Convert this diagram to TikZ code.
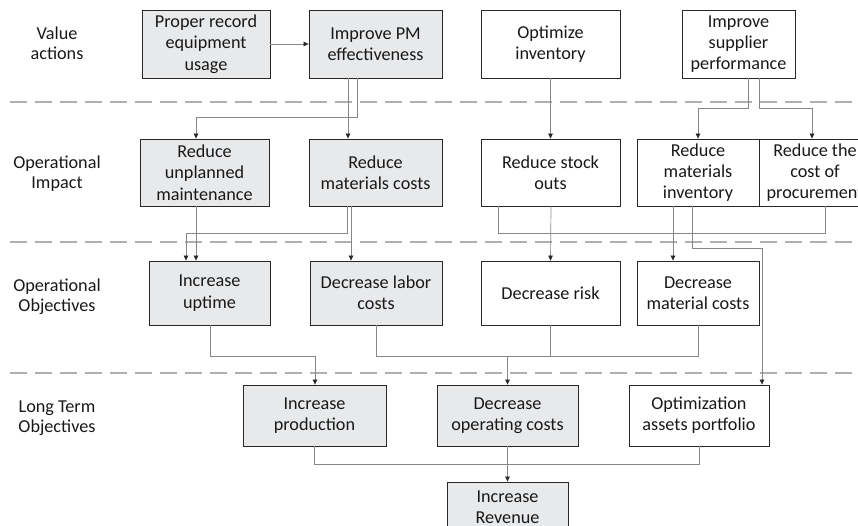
\documentclass[tikz,border=0pt]{standalone}
\usepackage{fontspec}
\setmainfont{Carlito}
\usetikzlibrary{arrows.meta}
\definecolor{boxgray}{RGB}{232,233,235}
\definecolor{linegray}{RGB}{135,135,135}
\definecolor{dashgray}{RGB}{175,175,175}
\definecolor{edgec}{RGB}{40,40,40}
\tikzset{
  bx/.style={draw=edgec, line width=0.8pt, inner sep=0pt, align=center,
    font=\fontsize{18.2}{21.3}\selectfont, text=black!90},
  gbx/.style={bx, fill=boxgray},
  wbx/.style={bx, fill=white},
  lbl/.style={align=center, font=\fontsize{18.2}{20.3}\selectfont, text=black!90},
  conn/.style={draw=linegray, line width=0.7pt},
  arr/.style={conn, -{Triangle[length=5pt,width=4.5pt,color=edgec]}},
  sep/.style={draw=dashgray, line width=1.4pt, dash pattern=on 17pt off 8pt}
}
\begin{document}
\begin{tikzpicture}[x=1pt,y=-1pt]
\useasboundingbox (0,0) rectangle (858,525);
\begin{scope}
\clip (0,0) rectangle (858,525);
% separators
\coordinate (s1a) at (10,102); \coordinate (s1b) at (858,102);
\coordinate (s2a) at (10,242); \coordinate (s2b) at (858,242);
\coordinate (s3a) at (10,373); \coordinate (s3b) at (858,373);
\draw[sep] (s1a) -- (s1b);
\draw[sep] (s2a) -- (s2b);
\draw[sep] (s3a) -- (s3b);

% labels
\node[lbl] (l1) at (57,43) {Value\\actions};
\node[lbl] (l2) at (57,173.5) {Operational\\Impact};
\node[lbl] (l3) at (57,297) {Operational\\Objectives};
\node[lbl] (l4) at (57,418) {Long Term\\Objectives};

% row 1
\node[gbx, minimum width=128, minimum height=68] (rec) at (206,44) {Proper record\\equipment\\usage};
\node[gbx, minimum width=133, minimum height=68] (pm) at (375.5,44) {Improve PM\\effectiveness};
\node[wbx, minimum width=139, minimum height=68] (inv) at (550.5,44) {Optimize\\inventory};
\node[wbx, minimum width=113, minimum height=68] (sup) at (738.5,44) {Improve\\supplier\\performance};

% row 2
\node[gbx, minimum width=129, minimum height=67] (unpl) at (204.5,172.5) {Reduce\\unplanned\\maintenance};
\node[gbx, minimum width=133, minimum height=67] (matc) at (375.5,172.5) {Reduce\\materials costs};
\node[wbx, minimum width=139, minimum height=67] (stock) at (550.5,172.5) {Reduce stock\\outs};
\node[wbx, minimum width=122, minimum height=67] (minv) at (698,172.5) {Reduce\\materials\\inventory};
\node[wbx, minimum width=112, minimum height=67] (proc) at (815,172.5) {Reduce the\\cost of\\procurement};

% row 3
\node[gbx, minimum width=121, minimum height=64] (upt) at (209.5,293) {Increase\\uptime};
\node[gbx, minimum width=132, minimum height=64] (labor) at (376,293) {Decrease labor\\costs};
\node[wbx, minimum width=139, minimum height=64] (risk) at (550.5,293) {Decrease risk};
\node[wbx, minimum width=122, minimum height=64] (matcost) at (698,293) {Decrease\\material costs};

% row 4
\node[gbx, minimum width=143, minimum height=61] (prod) at (314.5,415.5) {Increase\\production};
\node[gbx, minimum width=141, minimum height=61] (opc) at (507.5,415.5) {Decrease\\operating costs};
\node[wbx, minimum width=140, minimum height=61] (opt) at (699,415.5) {Optimization\\assets portfolio};

% row 5
\node[gbx, minimum width=121, minimum height=50] (rev) at (507.5,507) {Increase\\Revenue};

% connectors row1 -> row2
\draw[arr] (rec.east) -- (pm.west);
\draw[arr] ([xshift=-18.5]pm.south) -- ++(0,39) -| ([xshift=-8.5]unpl.north);
\draw[arr] ([xshift=-27.5]pm.south) -- ([xshift=-27.5]matc.north);
\draw[arr] (inv.south) -- (stock.north);
\draw[arr] ([xshift=9.5]sup.south) -- ++(0,30) -| (minv.north);
\draw[arr] ([xshift=20.5]sup.south) -- ++(0,30) -| ([xshift=-3]proc.north);

% row2 -> row3
\draw[arr] ([xshift=-8.5]unpl.south) -- ([xshift=-13.5]upt.north);
\draw[arr] ([xshift=-28.5]matc.south) -- ++(0,27) -| ([xshift=-23.5]upt.north);
\draw[arr] ([xshift=-24.5]matc.south) -- ([xshift=-25]labor.north);
\coordinate (j1) at (673,233);
\draw[conn] ([xshift=-52.5]stock.south) |- (j1);
\draw[conn] ([xshift=10]proc.south) |- (j1);
\draw[arr] ([xshift=-25]minv.south) -- ([xshift=-25]matcost.north);
\draw[arr] ([xshift=0.5]stock.south) -- (risk.north);
\draw[arr] ([xshift=-6]minv.south) -- ++(0,42) -| ([xshift=63]opt.north);

% row3 -> row4
\draw[arr] ([xshift=0.5]upt.south) -- ++(0,31) -| ([xshift=0.5]prod.north);
\coordinate (j2) at (507.5,356);
\draw[conn] (labor.south) |- (j2);
\draw[conn] (risk.south) |- (j2);
\draw[conn] (matcost.south) |- (j2);
\draw[arr] (j2) -- (opc.north);

% row4 -> row5
\coordinate (j3) at (507.5,464);
\draw[conn] (prod.south) |- (j3);
\draw[conn] (opt.south) |- (j3);
\draw[arr] (opc.south) -- (rev.north);
\end{scope}
\end{tikzpicture}
\end{document}
